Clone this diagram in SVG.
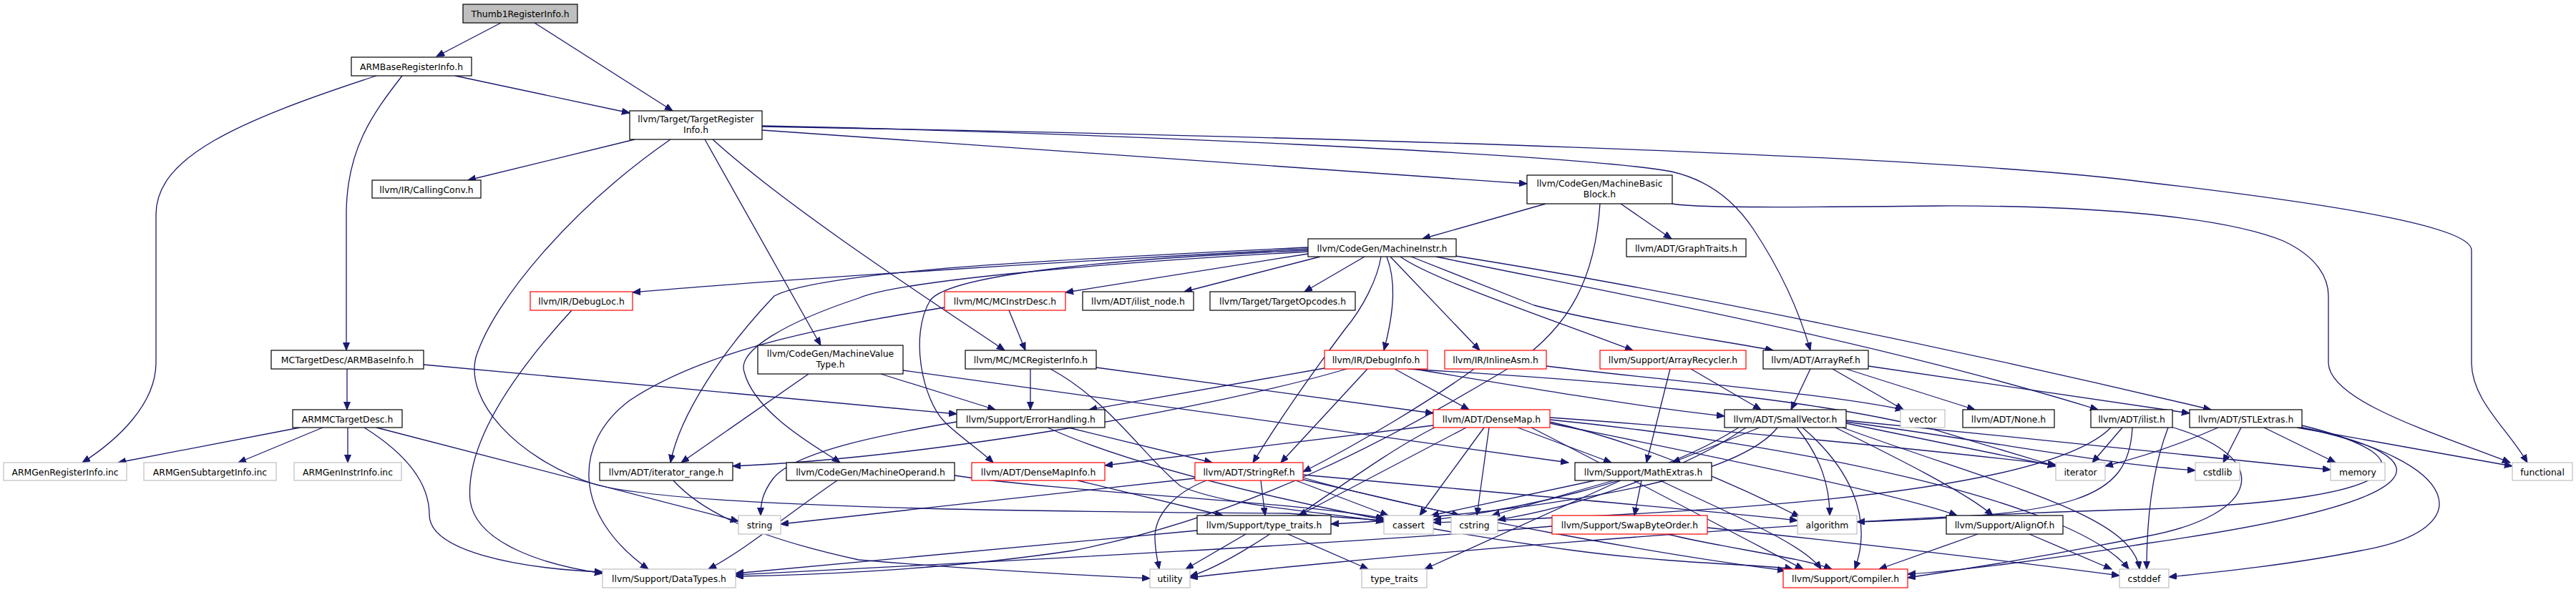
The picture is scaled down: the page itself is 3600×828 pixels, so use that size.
<svg xmlns="http://www.w3.org/2000/svg" width="3600" height="828" viewBox="0 0 3600 828">
<defs>
<marker id="ah" markerUnits="userSpaceOnUse" markerWidth="13" markerHeight="11" refX="11" refY="4.5" orient="auto"><path d="M0,0 L11,4.5 L0,9 Z" fill="#191970" stroke="#191970" stroke-width="1"/></marker>
<style>
.e path{fill:none;stroke:#191970;stroke-width:1.3;marker-end:url(#ah)}
rect{fill:#fff;stroke:#000;stroke-width:1.2}
rect.bg{stroke:none}
rect.r{stroke:#ff0000}
rect.g{stroke:#bfbfbf}
rect.root{fill:#bfbfbf}
text{font-family:"DejaVu Sans",sans-serif;font-size:12.4px;text-anchor:middle;fill:#000}
</style>
</defs>
<rect class="bg" x="0" y="0" width="3600" height="828"/>
<g id="edges" class="e">
<path d="M700,32 L610,79"/>
<path d="M747,32 L940,155"/>
<path d="M636,106 L880,158"/>
<path d="M526,106 C330,170 218,220 218,300 L218,507 C218,565 165,615 115,647"/>
<path d="M562,106 C520,160 484,210 484,300 L484,490"/>
<path d="M485,516 L485,573"/>
<path d="M592,510 L1337,579"/>
<path d="M419,598 L165,647"/>
<path d="M451,598 L333,647"/>
<path d="M486,598 L486,647"/>
<path d="M509,598 C560,630 600,670 600,720 C600,770 720,795 842,800"/>
<path d="M526,598 L1032,729"/>
<path d="M887,195 L654,252"/>
<path d="M937,195 C800,290 690,420 665,500 C650,560 720,640 830,677 C950,712 1500,716 1800,718 L1934,728"/>
<path d="M985,195 L1147,483"/>
<path d="M996,195 C1100,290 1300,420 1404,490"/>
<path d="M1065,182 L2134,257"/>
<path d="M1065,176 C1500,185 2200,215 2336,240 C2380,250 2420,275 2450,320 C2480,365 2510,420 2530,490"/>
<path d="M1065,177 C1800,190 2700,215 3000,255 C3300,290 3454,320 3454,350 L3454,507 C3454,560 3505,600 3532,647"/>
<path d="M2160,285 L1988,334"/>
<path d="M2265,285 L2336,334"/>
<path d="M2236,285 C2230,380 2200,460 2100,520 C1950,610 1750,720 1500,770 C1300,800 1100,805 1028,806"/>
<path d="M2337,285 C2370,291 2500,290 2706,288 C2900,287 3100,300 3191,337 C3240,360 3254,390 3254,414 L3254,507 C3254,560 3400,605 3508,647"/>
<path d="M1828,348 C1500,365 1100,390 884,409"/>
<path d="M1828,355 L1489,409"/>
<path d="M1845,359 L1655,408"/>
<path d="M1907,359 L1823,408"/>
<path d="M1828,346 C1500,362 1150,378 1082,414 C1010,490 950,580 937,647"/>
<path d="M1828,352 C1500,370 1250,395 1200,417 C1100,450 1030,490 1040,520 C1055,580 1150,630 1174,647"/>
<path d="M1828,350 C1600,360 1330,380 1300,420 C1270,470 1290,560 1320,590 C1340,610 1370,630 1388,647"/>
<path d="M1930,359 C1925,390 1905,430 1880,460 C1820,540 1780,600 1751,647"/>
<path d="M1938,359 C1950,390 1950,430 1934,490"/>
<path d="M1943,359 L2068,490"/>
<path d="M1957,359 C2000,390 2150,440 2282,490"/>
<path d="M1972,359 C2050,390 2100,410 2144,427 C2250,455 2400,475 2478,490"/>
<path d="M2007,359 C2200,400 2600,470 2932,573"/>
<path d="M2034,358 C2300,400 2700,480 3090,573"/>
<path d="M1130,523 L952,647"/>
<path d="M1231,523 L1391,573"/>
<path d="M1262,518 L2192,647"/>
<path d="M1410,434 L1433,490"/>
<path d="M1320,430 C1200,450 1000,480 880,560 C800,620 800,720 906,796"/>
<path d="M799,434 C720,520 650,620 657,700 C665,760 760,790 842,802"/>
<path d="M1440,516 L1440,573"/>
<path d="M1532,514 L2003,578"/>
<path d="M1468,516 C1550,560 1600,640 1650,680 C1720,710 1850,715 1934,730"/>
<path d="M1493,598 L1694,647"/>
<path d="M1464,598 C1600,660 1900,730 2200,770 C2350,790 2480,790 2505,796"/>
<path d="M1337,590 C1250,605 1110,630 1080,670 C1065,690 1063,705 1063,721"/>
<path d="M1506,672 L1709,721"/>
<path d="M1686,672 C1640,690 1615,720 1614,750 C1614,770 1618,785 1620,796"/>
<path d="M1670,669 L1091,733"/>
<path d="M1811,672 L1940,721"/>
<path d="M1818,670 L2040,721"/>
<path d="M1821,664 C2100,690 2400,715 2512,728"/>
<path d="M1821,668 C2000,720 2350,780 2495,798"/>
<path d="M1762,672 L1768,721"/>
<path d="M1673,742 L1028,802"/>
<path d="M1800,747 L1912,796"/>
<path d="M1741,747 L1657,796"/>
<path d="M2320,672 C2420,720 2520,760 2545,796"/>
<path d="M2294,672 L2284,721"/>
<path d="M2265,672 L1991,796"/>
<path d="M2255,672 L2085,721"/>
<path d="M2229,672 L2000,721"/>
<path d="M2330,747 C2400,765 2520,780 2560,796"/>
<path d="M2169,736 C1900,760 1300,790 1028,804"/>
<path d="M2386,738 C2600,760 2850,790 2962,805"/>
<path d="M1851,515 L1522,573"/>
<path d="M1882,516 C1700,570 1300,640 1024,652"/>
<path d="M1911,516 L1790,647"/>
<path d="M1949,516 L2053,573"/>
<path d="M1976,516 C2150,545 2300,570 2410,582"/>
<path d="M1968,516 C2200,530 2500,550 2700,600 C2800,630 2850,645 2873,652"/>
<path d="M2060,516 C2000,560 1900,620 1821,660"/>
<path d="M2161,512 C2350,535 2550,550 2660,573"/>
<path d="M2334,516 L2301,647"/>
<path d="M2363,516 L2461,573"/>
<path d="M2530,516 L2503,573"/>
<path d="M2561,516 L2660,573"/>
<path d="M2580,516 L2760,573"/>
<path d="M2611,512 L3060,578"/>
<path d="M2565,598 C2650,640 2750,690 2785,721"/>
<path d="M2519,598 C2580,650 2620,720 2592,796"/>
<path d="M2459,598 L2337,647"/>
<path d="M2484,598 C2420,680 2100,720 1860,733"/>
<path d="M2511,598 C2545,640 2557,680 2557,721"/>
<path d="M2430,598 C2300,680 2100,715 2003,727"/>
<path d="M2575,598 C2800,680 2980,720 2990,796"/>
<path d="M2580,590 C2800,620 2950,650 3068,658"/>
<path d="M2440,598 C2350,660 2200,710 2093,727"/>
<path d="M2580,592 L2873,652"/>
<path d="M2580,588 C2800,610 3100,640 3257,657"/>
<path d="M2966,598 L2924,647"/>
<path d="M3034,597 C3180,640 3160,720 3000,750 C2850,780 2720,800 2666,808"/>
<path d="M3030,598 C3010,650 3000,720 3000,796"/>
<path d="M2980,598 C2975,700 2900,720 2595,730"/>
<path d="M2950,598 C2850,700 2300,720 2003,731"/>
<path d="M3132,598 L3107,647"/>
<path d="M3164,598 L3264,647"/>
<path d="M3210,598 L3511,652"/>
<path d="M3100,598 C3050,620 2990,640 2942,652"/>
<path d="M3217,595 C3400,640 3380,700 3000,712 C2500,725 1800,790 1663,808"/>
<path d="M3217,598 C3420,640 3420,700 3000,760 C2850,785 2720,800 2666,803"/>
<path d="M3217,598 C3440,644 3470,740 3300,770 C3200,790 3100,800 3031,807"/>
<path d="M2764,747 L2626,796"/>
<path d="M2836,747 L2951,796"/>
<path d="M2003,595 L1544,651"/>
<path d="M2121,598 L2252,647"/>
<path d="M2049,598 L1815,721"/>
<path d="M2074,598 L1984,721"/>
<path d="M2081,598 L2064,721"/>
<path d="M2005,598 C1900,650 1750,780 1663,806"/>
<path d="M2166,590 C2300,620 2450,690 2515,723"/>
<path d="M2166,584 C2400,600 2700,630 2873,650"/>
<path d="M2166,587 C2500,620 2900,700 2975,796"/>
<path d="M2140,598 C2300,680 2450,760 2520,796"/>
<path d="M2166,592 C2400,640 2650,690 2735,721"/>
<path d="M1334,665 C1500,690 1800,700 1934,725"/>
<path d="M1170,672 C1100,720 1040,770 990,796"/>
<path d="M941,672 C980,715 1050,750 1200,783 C1400,800 1550,806 1607,809"/>
</g>
<g id="n1"><rect class="root" x="647" y="6" width="160" height="26"/><text x="727" y="23.5">Thumb1RegisterInfo.h</text></g>
<g id="n2"><rect x="491" y="80" width="168" height="26"/><text x="575" y="97.5">ARMBaseRegisterInfo.h</text></g>
<g id="n3"><rect x="880" y="155" width="185" height="40"/><text x="972.5" y="171">llvm/Target/TargetRegister</text><text x="972.5" y="186">Info.h</text></g>
<g id="n4"><rect x="520" y="252" width="152" height="25"/><text x="596" y="269.5">llvm/IR/CallingConv.h</text></g>
<g id="n5"><rect x="379" y="490" width="213" height="26"/><text x="485.5" y="507.5">MCTargetDesc/ARMBaseInfo.h</text></g>
<g id="n6"><rect x="409" y="573" width="153" height="25"/><text x="485.5" y="590.5">ARMMCTargetDesc.h</text></g>
<g id="n7"><rect class="g" x="5" y="647" width="172" height="25"/><text x="91" y="664.5">ARMGenRegisterInfo.inc</text></g>
<g id="n8"><rect class="g" x="201" y="647" width="185" height="25"/><text x="293.5" y="664.5">ARMGenSubtargetInfo.inc</text></g>
<g id="n9"><rect class="g" x="411" y="647" width="150" height="25"/><text x="486" y="664.5">ARMGenInstrInfo.inc</text></g>
<g id="n10"><rect class="r" x="741" y="408" width="143" height="26"/><text x="812.5" y="425.5">llvm/IR/DebugLoc.h</text></g>
<g id="n11"><rect x="1059" y="483" width="203" height="40"/><text x="1160.5" y="499">llvm/CodeGen/MachineValue</text><text x="1160.5" y="514">Type.h</text></g>
<g id="n12"><rect x="838" y="647" width="186" height="25"/><text x="931" y="664.5">llvm/ADT/iterator_range.h</text></g>
<g id="n13"><rect class="g" x="1032" y="721" width="59" height="26"/><text x="1061.5" y="738.5">string</text></g>
<g id="n14"><rect class="g" x="842" y="796" width="186" height="26"/><text x="935" y="813.5">llvm/Support/DataTypes.h</text></g>
<g id="n15"><rect x="1099" y="647" width="235" height="25"/><text x="1216.5" y="664.5">llvm/CodeGen/MachineOperand.h</text></g>
<g id="n16"><rect class="r" x="1320" y="408" width="169" height="26"/><text x="1404.5" y="425.5">llvm/MC/MCInstrDesc.h</text></g>
<g id="n17"><rect x="1513" y="408" width="155" height="26"/><text x="1590.5" y="425.5">llvm/ADT/ilist_node.h</text></g>
<g id="n18"><rect x="1691" y="408" width="203" height="26"/><text x="1792.5" y="425.5">llvm/Target/TargetOpcodes.h</text></g>
<g id="n19"><rect x="1349" y="490" width="183" height="26"/><text x="1440.5" y="507.5">llvm/MC/MCRegisterInfo.h</text></g>
<g id="n20"><rect x="1337" y="573" width="207" height="25"/><text x="1440.5" y="590.5">llvm/Support/ErrorHandling.h</text></g>
<g id="n21"><rect class="r" x="1358" y="647" width="186" height="25"/><text x="1451" y="664.5">llvm/ADT/DenseMapInfo.h</text></g>
<g id="n22"><rect class="r" x="1670" y="647" width="151" height="25"/><text x="1745.5" y="664.5">llvm/ADT/StringRef.h</text></g>
<g id="n23"><rect x="1673" y="721" width="187" height="26"/><text x="1766.5" y="738.5">llvm/Support/type_traits.h</text></g>
<g id="n24"><rect class="g" x="1607" y="796" width="56" height="26"/><text x="1635" y="813.5">utility</text></g>
<g id="n25"><rect x="2134" y="245" width="203" height="40"/><text x="2235.5" y="261">llvm/CodeGen/MachineBasic</text><text x="2235.5" y="276">Block.h</text></g>
<g id="n26"><rect x="1828" y="334" width="207" height="25"/><text x="1931.5" y="351.5">llvm/CodeGen/MachineInstr.h</text></g>
<g id="n27"><rect x="2273" y="334" width="167" height="25"/><text x="2356.5" y="351.5">llvm/ADT/GraphTraits.h</text></g>
<g id="n28"><rect class="r" x="1851" y="490" width="144" height="26"/><text x="1923" y="507.5">llvm/IR/DebugInfo.h</text></g>
<g id="n29"><rect class="r" x="2019" y="490" width="142" height="26"/><text x="2090" y="507.5">llvm/IR/InlineAsm.h</text></g>
<g id="n30"><rect class="r" x="2236" y="490" width="204" height="26"/><text x="2338" y="507.5">llvm/Support/ArrayRecycler.h</text></g>
<g id="n31"><rect class="r" x="2003" y="573" width="163" height="25"/><text x="2084.5" y="590.5">llvm/ADT/DenseMap.h</text></g>
<g id="n32"><rect x="2201" y="647" width="191" height="25"/><text x="2296.5" y="664.5">llvm/Support/MathExtras.h</text></g>
<g id="n33"><rect class="g" x="1934" y="721" width="69" height="26"/><text x="1968.5" y="738.5">cassert</text></g>
<g id="n34"><rect class="g" x="2028" y="721" width="65" height="26"/><text x="2060.5" y="738.5">cstring</text></g>
<g id="n35"><rect class="r" x="2169" y="721" width="217" height="26"/><text x="2277.5" y="738.5">llvm/Support/SwapByteOrder.h</text></g>
<g id="n36"><rect class="g" x="1903" y="796" width="91" height="26"/><text x="1948.5" y="813.5">type_traits</text></g>
<g id="n37"><rect x="2464" y="490" width="147" height="26"/><text x="2537.5" y="507.5">llvm/ADT/ArrayRef.h</text></g>
<g id="n38"><rect x="2410" y="573" width="170" height="25"/><text x="2495" y="590.5">llvm/ADT/SmallVector.h</text></g>
<g id="n39"><rect class="g" x="2656" y="573" width="62" height="25"/><text x="2687" y="590.5">vector</text></g>
<g id="n40"><rect x="2743" y="573" width="128" height="25"/><text x="2807" y="590.5">llvm/ADT/None.h</text></g>
<g id="n41"><rect x="2922" y="573" width="114" height="25"/><text x="2979" y="590.5">llvm/ADT/ilist.h</text></g>
<g id="n42"><rect x="3060" y="573" width="157" height="25"/><text x="3138.5" y="590.5">llvm/ADT/STLExtras.h</text></g>
<g id="n43"><rect class="g" x="2873" y="647" width="69" height="25"/><text x="2907.5" y="664.5">iterator</text></g>
<g id="n44"><rect class="g" x="3068" y="647" width="62" height="25"/><text x="3099" y="664.5">cstdlib</text></g>
<g id="n45"><rect class="g" x="3257" y="647" width="76" height="25"/><text x="3295" y="664.5">memory</text></g>
<g id="n46"><rect class="g" x="3511" y="647" width="84" height="25"/><text x="3553" y="664.5">functional</text></g>
<g id="n47"><rect class="g" x="2512" y="721" width="83" height="26"/><text x="2553.5" y="738.5">algorithm</text></g>
<g id="n48"><rect x="2720" y="721" width="163" height="26"/><text x="2801.5" y="738.5">llvm/Support/AlignOf.h</text></g>
<g id="n49"><rect class="r" x="2492" y="796" width="174" height="26"/><text x="2579" y="813.5">llvm/Support/Compiler.h</text></g>
<g id="n50"><rect class="g" x="2962" y="796" width="69" height="26"/><text x="2996.5" y="813.5">cstddef</text></g>
</svg>
